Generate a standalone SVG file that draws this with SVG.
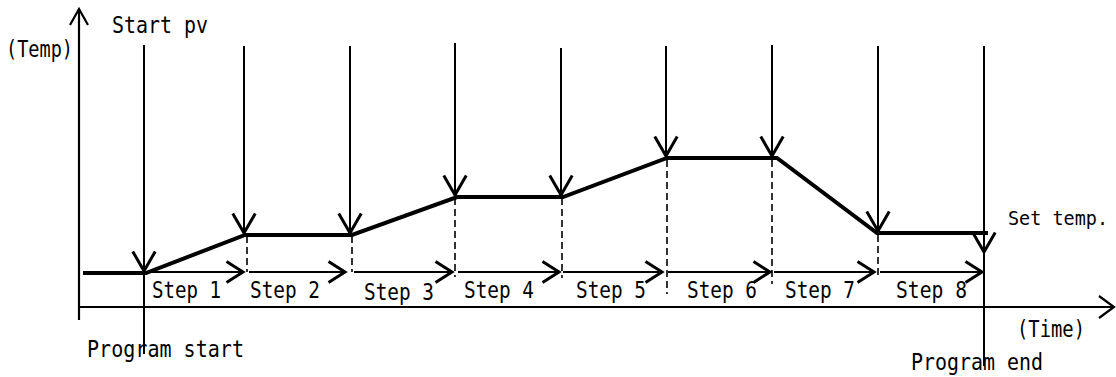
<svg xmlns="http://www.w3.org/2000/svg" width="1116" height="377" viewBox="0 0 1116 377">
<defs>
<marker id="ah" markerUnits="userSpaceOnUse" markerWidth="30" markerHeight="30" viewBox="-15 -10 20 20" refX="0" refY="0" orient="auto" overflow="visible">
<path d="M-13,-7.5 L0,0 L-13,7.5" fill="none" stroke="#000" stroke-width="2"/>
</marker>
<marker id="ahs" markerUnits="userSpaceOnUse" markerWidth="30" markerHeight="30" viewBox="-15 -10 20 20" refX="0" refY="0" orient="auto" overflow="visible">
<path d="M-11,-7 L0,0 L-11,7" fill="none" stroke="#000" stroke-width="2"/>
</marker>
</defs>
<style>
.t{font-family:"DejaVu Sans Mono","Liberation Mono",monospace;font-size:22.5px;fill:#000}
.ax{stroke:#000;stroke-width:2.2;fill:none}
.v{stroke:#000;stroke-width:2;fill:none;marker-end:url(#ah)}
.s{stroke:#000;stroke-width:2;fill:none;marker-end:url(#ahs)}
.d{stroke:#000;stroke-width:1.6;fill:none;stroke-dasharray:7 4}
.p{stroke:#000;stroke-width:4;fill:none;stroke-linejoin:miter}
.ln{stroke:#000;stroke-width:2;fill:none}
</style>
<rect width="1116" height="377" fill="#fff"/>
<g id="axes">
<line class="ax" x1="79" y1="320" x2="79" y2="9"/>
<path class="ax" d="M70,25 L79,9 L88,25"/>
<line class="ax" x1="79" y1="307" x2="1114" y2="307"/>
<path class="ax" d="M1099,296 L1114,307 L1099,318"/>
</g>
<g id="profile">
<path class="p" d="M83,273 L146,273 L245,235 L352,235 L457,197 L563,197 L667,158 L777,158 L877,233 L988,233"/>
</g>
<g id="connectors">
<line class="v" x1="144" y1="45" x2="144" y2="271"/>
<line class="ln" x1="144" y1="270" x2="144" y2="354"/>
<line class="v" x1="244" y1="46" x2="244" y2="233"/>
<line class="v" x1="350" y1="46" x2="350" y2="233"/>
<line class="v" x1="455" y1="43" x2="455" y2="195"/>
<line class="v" x1="561" y1="48" x2="561" y2="195"/>
<line class="v" x1="666" y1="46" x2="666" y2="156"/>
<line class="v" x1="772" y1="45" x2="772" y2="156"/>
<line class="v" x1="878" y1="46" x2="878" y2="231"/>
<line class="v" x1="984" y1="46" x2="984" y2="252"/>
<line class="ln" x1="984" y1="250" x2="984" y2="366"/>
<line class="d" x1="247" y1="236" x2="247" y2="272"/>
<line class="d" x1="352" y1="236" x2="352" y2="272"/>
<line class="d" x1="455" y1="198" x2="455" y2="277"/>
<line class="d" x1="562" y1="198" x2="562" y2="278"/>
<line class="d" x1="667" y1="160" x2="667" y2="294"/>
<line class="d" x1="772" y1="160" x2="772" y2="284"/>
<line class="d" x1="878" y1="235" x2="878" y2="277"/>
<line class="s" x1="147" y1="272" x2="243" y2="272"/>
<line class="s" x1="249" y1="272" x2="345" y2="272"/>
<line class="s" x1="354" y1="272" x2="452" y2="272"/>
<line class="s" x1="458" y1="272" x2="559" y2="272"/>
<line class="s" x1="563" y1="272" x2="662" y2="272"/>
<line class="s" x1="668" y1="272" x2="770" y2="272"/>
<line class="s" x1="774" y1="272" x2="874" y2="272"/>
<line class="s" x1="880" y1="272" x2="982" y2="272"/>
</g>
<g id="labels">
<text class="t" x="112" y="33" textLength="96" lengthAdjust="spacingAndGlyphs">Start pv</text>
<text class="t" x="6" y="57" textLength="67" lengthAdjust="spacingAndGlyphs">(Temp)</text>
<text class="t" x="152" y="298" textLength="69" lengthAdjust="spacingAndGlyphs">Step 1</text>
<text class="t" x="250" y="298" textLength="70" lengthAdjust="spacingAndGlyphs">Step 2</text>
<text class="t" x="364" y="300" textLength="70" lengthAdjust="spacingAndGlyphs">Step 3</text>
<text class="t" x="464" y="298" textLength="70" lengthAdjust="spacingAndGlyphs">Step 4</text>
<text class="t" x="576" y="298" textLength="70" lengthAdjust="spacingAndGlyphs">Step 5</text>
<text class="t" x="687" y="298" textLength="70" lengthAdjust="spacingAndGlyphs">Step 6</text>
<text class="t" x="785" y="298" textLength="70" lengthAdjust="spacingAndGlyphs">Step 7</text>
<text class="t" x="896" y="298" textLength="71" lengthAdjust="spacingAndGlyphs">Step 8</text>
<text class="t" x="1008" y="225" textLength="100" lengthAdjust="spacingAndGlyphs" style="font-size:19.5px">Set temp.</text>
<text class="t" x="1017" y="337" textLength="68" lengthAdjust="spacingAndGlyphs">(Time)</text>
<text class="t" x="911" y="370" textLength="132" lengthAdjust="spacingAndGlyphs">Program end</text>
<text class="t" x="87" y="357" textLength="157" lengthAdjust="spacingAndGlyphs">Program start</text>
</g>
</svg>
